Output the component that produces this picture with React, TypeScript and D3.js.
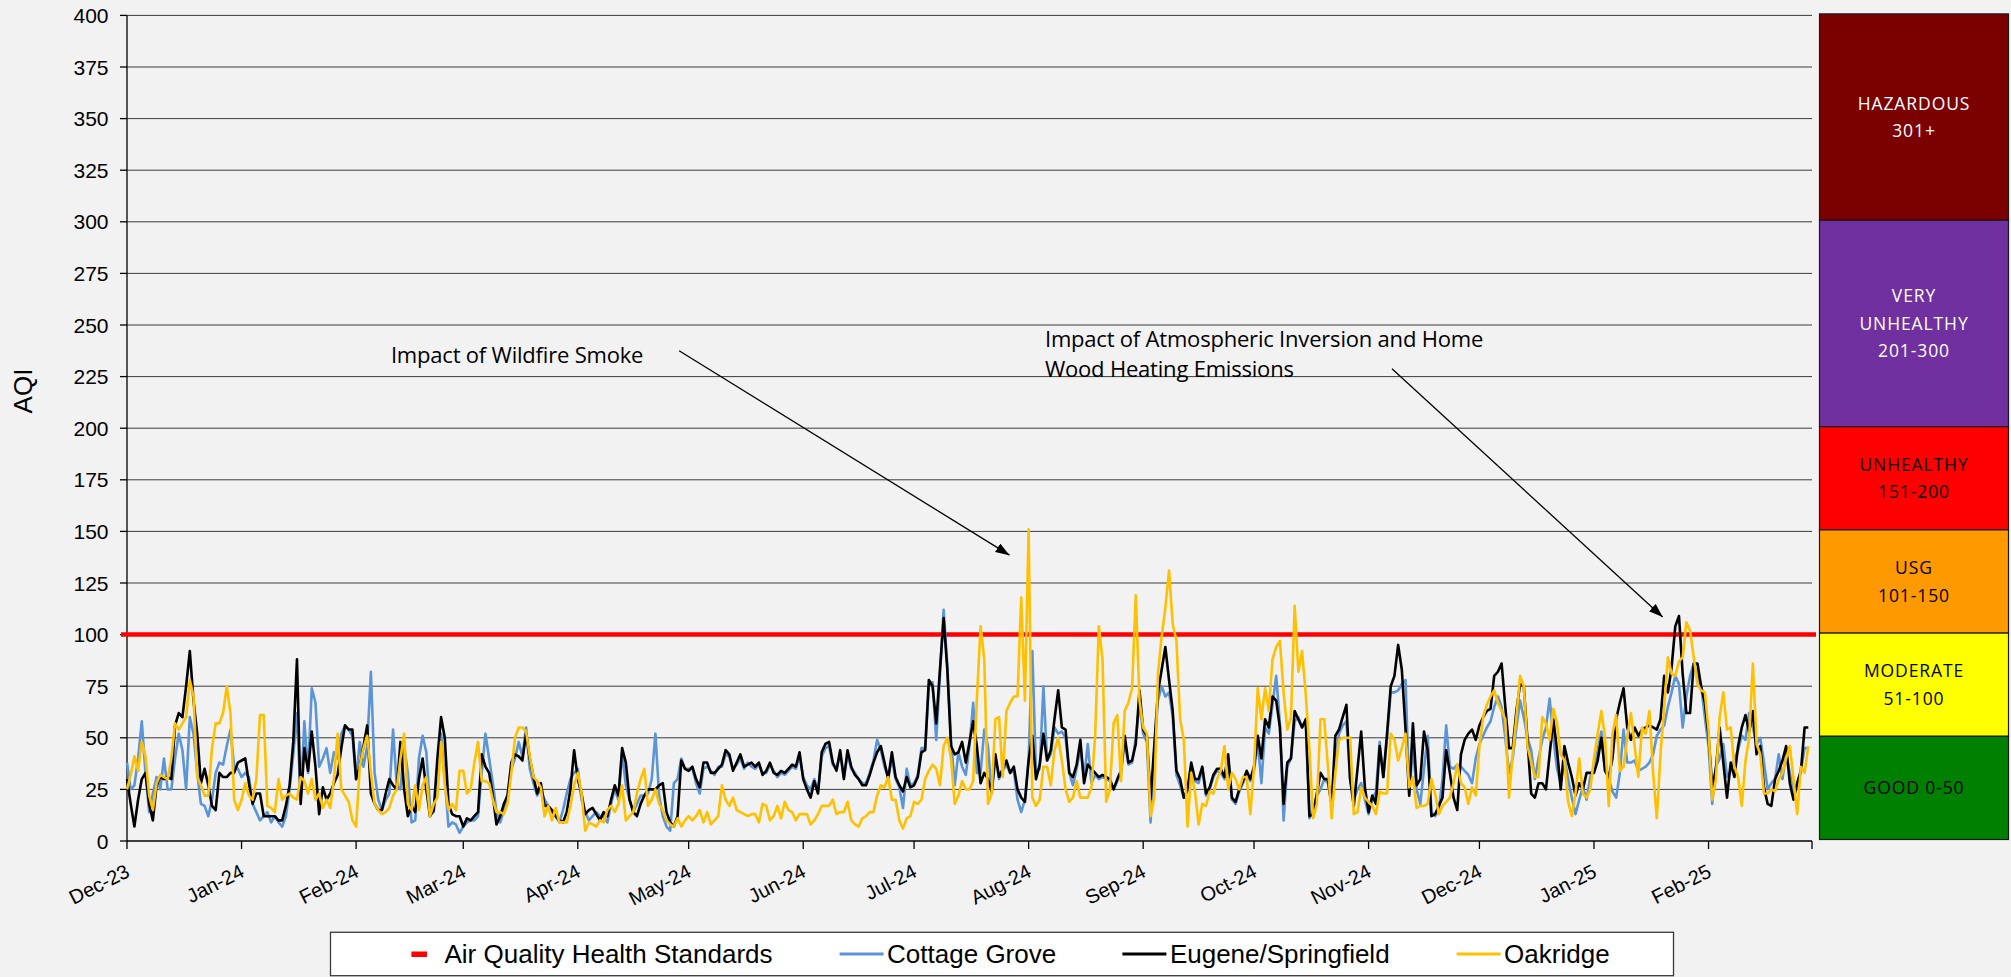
import React from 'react';
import * as d3 from 'd3';

// daily AQI, Dec 1 2023 .. Feb 28 2025 (one row per month)
const START = new Date(2023, 11, 1);
const END = new Date(2025, 2, 1);

const COTTAGE_GROVE = [
  38,25,27,40,58,33,14,23,31,25,40,25,25,40,52,44,25,60,52,33,18,17,12,20,33,38,37,46,54,36,35,
  31,33,31,18,14,10,12,14,9,12,9,7,12,25,42,62,20,58,33,74,67,36,40,45,33,43,40,52,56,54,51,
  30,48,36,46,82,33,20,15,20,23,54,27,25,46,33,9,10,40,51,43,17,14,30,52,30,7,9,8,4,
  7,9,10,10,12,33,52,40,28,14,9,15,23,35,40,48,41,55,35,28,22,25,20,17,14,12,9,15,23,30,33,
  35,20,14,10,12,14,12,12,9,18,25,20,43,27,20,14,18,22,22,23,30,52,22,12,7,5,28,30,40,35,
  35,35,28,23,35,36,34,32,36,36,42,41,35,37,40,35,38,36,35,37,33,33,37,34,31,33,32,34,36,35,41,
  31,27,25,30,24,41,45,46,37,35,42,31,42,35,33,30,28,28,33,39,49,44,36,31,40,30,26,16,35,27,
  28,32,45,45,75,77,49,80,112,85,49,27,43,36,32,46,67,33,33,54,46,23,40,30,34,37,33,34,20,14,20,
  40,92,33,35,75,39,42,55,52,53,50,33,27,35,45,30,47,28,32,30,31,30,29,25,29,33,48,37,38,50,67,
  52,48,9,44,68,75,70,72,60,32,27,21,24,35,29,28,35,22,25,31,34,33,30,40,20,18,24,28,32,29,
  34,48,28,55,52,66,80,57,10,36,40,58,60,55,57,11,15,22,25,30,28,18,40,52,56,58,30,20,25,28,20,
  13,20,24,48,31,50,72,72,73,76,78,23,45,25,18,35,51,14,12,15,30,56,36,35,37,36,34,32,28,40,
  47,51,55,58,65,70,65,50,33,40,55,68,60,50,44,30,40,49,55,69,50,35,28,40,30,21,13,20,26,20,31,
  36,44,53,34,30,24,21,33,54,38,38,39,34,35,36,38,42,51,54,56,65,72,80,76,55,70,80,86,80,75,60,
  46,18,36,40,47,31,34,40,44,51,49,62,55,47,50,38,25,28,30,42,30,42,33,23,28,34,45,45,
];

const EUGENE_SPRINGFIELD = [
  30,18,7,20,30,33,18,10,27,31,30,31,30,56,62,60,75,92,68,52,28,35,27,17,15,33,31,31,33,33,38,
  39,40,28,18,23,23,12,12,12,12,10,10,17,27,48,88,18,45,34,53,36,13,26,20,23,28,32,45,56,54,54,
  30,36,46,56,23,18,15,15,23,30,27,25,48,25,12,17,14,30,40,25,12,15,40,60,50,18,13,12,12,
  7,11,10,12,14,42,36,33,22,8,12,18,22,38,42,41,39,52,40,31,23,28,17,17,15,12,10,9,14,25,44,
  30,23,13,15,16,13,10,14,12,20,27,22,45,38,20,14,12,18,22,25,25,25,27,28,14,9,7,12,39,35,
  34,36,30,26,38,38,33,33,35,37,44,42,34,38,42,36,37,38,36,38,32,34,38,33,32,34,33,35,37,36,43,
  30,25,21,29,23,43,47,48,38,34,44,30,44,36,32,30,27,27,32,38,43,46,38,30,43,31,27,24,31,26,
  27,31,43,44,78,75,57,83,108,83,46,42,43,48,38,48,58,46,28,33,30,24,42,31,35,39,33,36,25,21,19,
  39,51,30,37,52,39,44,59,73,55,54,33,31,37,49,28,37,35,33,31,32,31,30,25,30,34,51,38,39,47,73,
  54,51,20,46,72,83,94,78,63,34,30,21,25,38,30,30,36,23,26,32,35,35,31,42,21,19,25,29,34,30,
  36,51,40,59,55,70,68,55,18,38,40,63,59,55,59,12,13,23,33,30,30,17,51,54,60,66,30,17,35,53,26,
  14,22,18,46,31,52,75,80,95,83,54,22,57,27,30,53,44,12,13,17,21,44,33,21,15,42,49,52,54,49,
  56,60,63,64,80,82,86,65,45,45,63,76,75,49,23,21,28,28,25,42,59,44,25,46,38,31,22,28,25,33,33,
  33,39,50,34,31,40,59,67,74,55,49,55,51,54,55,56,55,54,59,80,72,84,104,109,81,62,62,86,86,75,67,
  51,26,35,55,38,21,38,31,46,55,61,53,63,42,46,26,18,17,30,34,39,46,28,20,28,34,55,55,
];

const OAKRIDGE = [
  25,32,41,34,48,41,22,15,28,32,31,30,40,57,54,57,60,78,70,31,27,22,22,45,57,57,62,75,62,20,15,
  20,28,22,20,30,61,61,17,16,14,30,20,22,23,21,20,31,29,23,30,20,23,16,20,16,30,52,25,22,19,10,
  7,36,45,51,33,18,15,13,14,16,22,25,40,52,18,15,27,15,27,31,12,18,21,48,27,15,18,15,34,
  34,23,25,38,48,29,29,28,20,14,14,13,18,33,50,55,55,53,41,31,29,26,12,17,10,16,9,9,9,17,27,
  33,23,5,9,8,7,10,9,15,17,14,18,27,10,12,14,23,30,35,17,20,25,18,15,10,8,7,11,7,10,
  12,10,12,15,9,14,8,10,12,27,20,17,21,15,14,13,12,13,13,9,18,17,10,12,17,11,19,15,14,10,13,
  13,13,8,10,13,17,17,17,20,13,14,14,19,10,8,7,11,12,14,14,22,27,26,31,20,20,10,6,11,12,
  19,18,20,30,34,37,35,27,46,50,40,18,22,29,25,25,29,69,104,88,18,23,59,60,31,63,67,70,70,118,68,
  151,21,17,20,36,36,27,44,50,39,25,19,21,29,21,21,21,26,51,104,88,19,25,57,61,29,63,67,74,119,68,
  55,52,12,21,81,99,113,131,105,97,59,49,7,33,24,8,18,17,24,23,30,34,46,25,33,30,25,31,31,13,
  36,74,59,74,63,88,94,97,72,54,60,114,82,92,71,44,11,18,59,59,36,11,33,49,50,50,50,13,14,26,21,
  19,17,13,24,23,23,52,49,39,45,52,26,31,16,17,17,18,30,23,13,17,19,21,28,37,28,26,18,26,22,
  46,60,66,70,73,67,63,59,21,42,60,80,75,46,38,31,31,60,57,49,64,57,42,39,19,12,23,40,23,21,25,
  40,52,63,50,17,52,61,34,36,50,62,46,31,55,52,63,33,11,42,65,89,81,80,87,89,106,102,89,76,73,72,
  54,20,30,60,72,54,55,36,31,17,39,50,86,47,42,23,23,25,24,30,33,40,46,30,13,36,33,46,
];

const STANDARD = 100;
const Y_TICKS = [0, 25, 50, 75, 100, 125, 150, 175, 200, 225, 250, 275, 300, 325, 350, 375, 400];

const BAND_LOW = [300, 200, 150, 100, 50, 0];
const BAND_HIGH = [400, 300, 200, 150, 100, 50];
const BAND_FILL = ['#7b0000', '#7030a0', '#ff0000', '#ff9900', '#ffff00', '#008000'];
const BAND_INK = ['#ffffff', '#ffffff', '#000000', '#000000', '#000000', '#000000'];
const BAND_TEXT = [
  ['HAZARDOUS', '301+'],
  ['VERY', 'UNHEALTHY', '201-300'],
  ['UNHEALTHY', '151-200'],
  ['USG', '101-150'],
  ['MODERATE', '51-100'],
  ['GOOD 0-50'],
];

const SERIES_NAMES = ['Cottage Grove', 'Eugene/Springfield', 'Oakridge'];
const SERIES_COLORS = ['#5b95d8', '#000000', '#ffc000'];
const SERIES_DATA = [COTTAGE_GROVE, EUGENE_SPRINGFIELD, OAKRIDGE];
const STANDARD_LABEL = 'Air Quality Health Standards';

const NOTES = [
  { lines: ['Impact of Wildfire Smoke'], at: new Date(2024, 1, 10, 10), value: 235.5,
    from: new Date(2024, 3, 28, 10), fromValue: 237.5, to: new Date(2024, 6, 26, 20), toValue: 138.5 },
  { lines: ['Impact of Atmospheric Inversion and Home', 'Wood Heating Emissions'], at: new Date(2024, 7, 5, 10), value: 243,
    from: new Date(2024, 10, 7, 8), fromValue: 228.8, to: new Date(2025, 0, 19, 14), toValue: 108.5 },
];

const W = 2011;
const H = 977;
const M = { left: 127, right: 1812, top: 15.4, bottom: 841 };
const ARIAL = "'Liberation Sans', Arial, sans-serif";
const NOTE_FONT = "'Open Sans', 'DejaVu Sans', sans-serif";

export default function App() {
  const x = d3.scaleTime().domain([START, END]).range([M.left, M.right]);
  const y = d3.scaleLinear().domain([0, 400]).range([M.bottom, M.top]);
  const months = d3.timeMonth.range(START, d3.timeDay.offset(END, 1));
  const fmt = d3.timeFormat('%b-%y');

  const line = d3
    .line<number>()
    .x((_, i) => x(d3.timeDay.offset(START, i)))
    .y((v) => y(v));

  const panelX = 1819.5;
  const panelW = 189;

  // legend layout (x of the swatch start, x of the label)
  const legendSwatch = [839.6, 1122.4, 1456.6];

  return (
    <div style={{ position: 'absolute', left: 0, top: 0, width: W, height: H, background: '#f2f2f2' }}>
      <svg width={W} height={H} style={{ display: 'block' }}>
        <defs>
          <marker id="arrow" viewBox="0 0 14 10" refX="14" refY="5" markerWidth="14" markerHeight="10"
            markerUnits="userSpaceOnUse" orient="auto">
            <path d="M0,0 L14,5 L0,10 z" fill="#000" />
          </marker>
        </defs>
        <rect width={W} height={H} fill="#f2f2f2" />

        {/* grid */}
        {Y_TICKS.filter((t) => t > 0).map((t) => (
          <line key={t} x1={M.left} x2={M.right} y1={y(t)} y2={y(t)} stroke="#3c3c3c" strokeWidth={1} />
        ))}

        {/* y axis */}
        <line x1={M.left} x2={M.left} y1={M.top} y2={M.bottom} stroke="#000" strokeWidth={1.3} />
        {Y_TICKS.map((t) => (
          <g key={t} transform={`translate(0,${y(t)})`}>
            <line x1={M.left - 7} x2={M.left} stroke="#000" strokeWidth={1.3} />
            <text x={M.left - 18.5} dy="0.36em" textAnchor="end" fontFamily={ARIAL} fontSize={21} fill="#000">
              {t}
            </text>
          </g>
        ))}
        <text transform={`translate(32,${y(218)}) rotate(-90)`} textAnchor="middle" fontFamily={ARIAL}
          fontSize={26} fill="#000">
          AQI
        </text>

        {/* x axis */}
        <line x1={M.left} x2={M.right} y1={M.bottom} y2={M.bottom} stroke="#000" strokeWidth={1.3} />
        {months.map((m, i) => (
          <g key={i} transform={`translate(${x(m)},${M.bottom})`}>
            <line y1={0} y2={8} stroke="#000" strokeWidth={1.3} />
            {i < months.length - 1 && (
              <text transform="translate(-2.5,22) rotate(-27)" textAnchor="end" dy="0.72em"
                fontFamily={ARIAL} fontSize={20} fill="#000">
                {fmt(m)}
              </text>
            )}
          </g>
        ))}

        {/* standard */}
        <line x1={M.left - 6} x2={M.right + 4} y1={y(STANDARD)} y2={y(STANDARD)} stroke="#ff0000" strokeWidth={4.5} />

        {/* series */}
        {SERIES_DATA.map((data, i) => (
          <path key={i} d={line(data) ?? ''} fill="none" stroke={SERIES_COLORS[i]} strokeWidth={2.6}
            strokeLinejoin="round" />
        ))}

        {/* annotations */}
        {NOTES.map((n, i) => (
          <g key={i}>
            {n.lines.map((l, j) => (
              <text key={j} x={x(n.at)} y={y(n.value) + j * 30} dy="0.35em" fontFamily={NOTE_FONT}
                fontSize={22} fill="#000" letterSpacing={-0.2}>
                {l}
              </text>
            ))}
            <line x1={x(n.from)} y1={y(n.fromValue)} x2={x(n.to)} y2={y(n.toValue)} stroke="#000"
              strokeWidth={1.3} markerEnd="url(#arrow)" />
          </g>
        ))}

        {/* AQI category panel */}
        {BAND_LOW.map((lo, i) => {
          const top = y(BAND_HIGH[i]);
          const bot = y(lo);
          const mid = (top + bot) / 2;
          const lines = BAND_TEXT[i];
          return (
            <g key={i}>
              <rect x={panelX} y={top - 1.5} width={panelW} height={bot - top} fill={BAND_FILL[i]} stroke="#1a1a1a"
                strokeWidth={1.2} />
              {lines.map((l, j) => (
                <text key={j} x={panelX + panelW / 2} y={mid - 1.5 + (j - (lines.length - 1) / 2) * 27.5} dy="0.36em"
                  textAnchor="middle" fontFamily={NOTE_FONT} fontSize={17.5} letterSpacing={0.9}
                  fill={BAND_INK[i]}>
                  {l}
                </text>
              ))}
            </g>
          );
        })}

        {/* legend */}
        <g>
          <rect x={330.5} y={932.3} width={1343} height={43.4} fill="#ffffff" stroke="#3a3a3a" strokeWidth={1.3} />
          <rect x={411.4} y={951.5} width={15.6} height={5.5} fill="#ff0000" />
          <text x={444.5} y={954} dy="0.36em" fontFamily={ARIAL} fontSize={26} fill="#000">
            {STANDARD_LABEL}
          </text>
          {SERIES_NAMES.map((name, i) => {
            const lx = legendSwatch[i];
            return (
              <g key={name}>
                <line x1={lx} x2={lx + 44} y1={954} y2={954} stroke={SERIES_COLORS[i]} strokeWidth={3.2} />
                <text x={lx + 47.5} y={954} dy="0.36em" fontFamily={ARIAL} fontSize={26} fill="#000">
                  {name}
                </text>
              </g>
            );
          })}
        </g>
      </svg>
    </div>
  );
}
